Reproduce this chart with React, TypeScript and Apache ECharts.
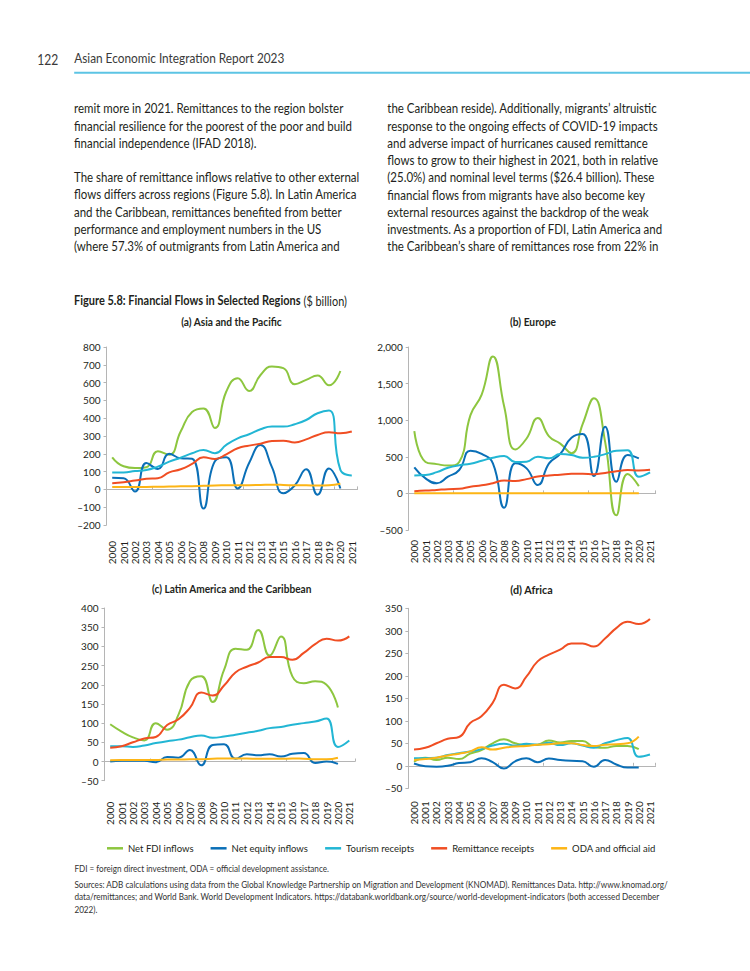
import React, { useEffect, useRef } from "react";
import * as echarts from "echarts";

// ---------- data ----------
const years = ["2000","2001","2002","2003","2004","2005","2006","2007","2008","2009","2010","2011","2012","2013","2014","2015","2016","2017","2018","2019","2020","2021"];
const seriesNames = ["Net FDI inflows", "Net equity inflows", "Tourism receipts", "Remittance receipts", "ODA and official aid"];

// (a) Asia and the Pacific
const asiaFdi = [180, 130, 120, 125, 215, 195, 325, 435, 455, 345, 550, 625, 553, 643, 690, 681, 591, 615, 640, 585, 665];
const asiaEquity = [65, 62, -12, 148, 115, 200, 175, 172, -108, 158, 180, 5, 148, 250, 125, -22, 22, 113, -30, 118, 5];
const asiaTourism = [95, 95, 103, 109, 128, 156, 178, 203, 221, 203, 250, 287, 310, 338, 353, 353, 366, 390, 428, 443, 110, 78];
const asiaRemit = [35, 40, 50, 60, 63, 96, 113, 143, 180, 171, 197, 231, 246, 257, 272, 274, 264, 281, 306, 321, 315, 325];
const asiaOda = [13, 13, 14, 14, 15, 16, 17, 18, 20, 22, 23, 24, 24, 25, 26, 25, 23, 23, 22, 24, 32];

// (b) Europe
const europeFdi = [850, 430, 400, 380, 430, 1070, 1350, 1870, 1190, 600, 750, 1030, 780, 680, 550, 950, 1300, 700, -300, 265, 100];
const europeEquity = [356, 205, 138, 228, 320, 584, 539, 411, -196, 411, 342, 114, 411, 540, 760, 810, 237, 910, 160, 524, 478];
const europeTourism = [245, 250, 290, 350, 385, 405, 445, 488, 511, 428, 434, 502, 480, 537, 524, 487, 500, 537, 583, 590, 228, 287];
const europeRemit = [30, 38, 48, 58, 62, 92, 110, 140, 175, 170, 195, 230, 245, 255, 268, 270, 262, 280, 303, 318, 312, 322];
const europeOda = [2, 2, 2, 2, 2, 2, 2, 3, 3, 3, 3, 3, 3, 3, 3, 3, 3, 3, 3, 3, 3];

// (c) Latin America and the Caribbean
const latamFdi = [97, 78, 63, 55, 100, 83, 122, 209, 222, 155, 239, 294, 291, 343, 276, 326, 222, 204, 209, 200, 141];
const latamEquity = [0, 2, 2, 2, -2, 12, 10, 30, -10, 43, 45, 7, 19, 16, 19, 13, 20, 22, -4, 0, -6];
const latamTourism = [40, 40, 38, 42, 48, 53, 57, 63, 68, 62, 65, 70, 75, 80, 87, 90, 96, 100, 104, 112, 38, 55];
const latamRemit = [36, 40, 50, 60, 64, 95, 110, 140, 180, 172, 198, 232, 247, 258, 272, 272, 265, 283, 306, 320, 315, 326];
const latamOda = [3, 4, 4, 4, 4, 5, 5, 6, 6, 7, 8, 8, 8, 7, 7, 7, 8, 7, 6, 6, 10];

// (d) Africa
const africaFdi = [9, 18, 13, 18, 15, 27, 35, 50, 59, 50, 46, 47, 56, 52, 55, 55, 42, 40, 44, 44, 37];
const africaEquity = [5, -1, -2, 0, 6, 8, 17, 8, -6, 10, 17, 8, 16, 13, 11, 10, -2, 13, 3, -4, -4];
const africaTourism = [17, 17, 18, 24, 28, 32, 37, 45, 49, 45, 49, 47, 51, 46, 50, 45, 40, 50, 57, 62, 20, 25];
const africaRemit = [36, 40, 50, 60, 64, 95, 110, 140, 180, 172, 198, 232, 247, 258, 272, 272, 265, 283, 306, 320, 315, 326];
const africaOda = [13, 15, 18, 23, 27, 32, 41, 36, 40, 43, 44, 47, 48, 50, 50, 46, 44, 47, 48, 50, 65];

// y-axis tick settings per panel
const panelTitles = ["(a) Asia and the Pacific", "(b) Europe", "(c) Latin America and the Caribbean", "(d) Africa"];
const yMins = [-200, -500, -50, -50];
const yMaxs = [800, 2000, 400, 350];
const yIntervals = [100, 500, 50, 50];

// ---------- text ----------
const leftLines = [
  "remit more in 2021. Remittances to the region bolster",
  "financial resilience for the poorest of the poor and build",
  "financial independence (IFAD 2018).",
  "The share of remittance inflows relative to other external",
  "flows differs across regions (Figure 5.8). In Latin America",
  "and the Caribbean, remittances benefited from better",
  "performance and employment numbers in the US",
  "(where 57.3% of outmigrants from Latin America and",
];
const rightLines = [
  "the Caribbean reside). Additionally, migrants\u2019 altruistic",
  "response to the ongoing effects of COVID-19 impacts",
  "and adverse impact of hurricanes caused remittance",
  "flows to grow to their highest in 2021, both in relative",
  "(25.0%) and nominal level terms ($26.4 billion). These",
  "financial flows from migrants have also become key",
  "external resources against the backdrop of the weak",
  "investments. As a proportion of FDI, Latin America and",
  "the Caribbean\u2019s share of remittances rose from 22% in",
];
const noteLine = "FDI = foreign direct investment, ODA = official development assistance.";
const sourceLines = [
  "Sources: ADB calculations using data from the Global Knowledge Partnership on Migration and Development (KNOMAD). Remittances Data. http://www.knomad.org/",
  "data/remittances; and World Bank. World Development Indicators. https://databank.worldbank.org/source/world-development-indicators (both accessed December",
  "2022).",
];

const FONT = "Lato";
const INK = "#231f20";
const COLORS = ["#8dc63f", "#0a6fb7", "#22b6d4", "#f04e23", "#fdb515"];
const AXIS_GRAY = "#b5b5b5";

let measureCtx: CanvasRenderingContext2D | null = null;
function measure(text: string, size: number, weight: string) {
  if (!measureCtx) measureCtx = document.createElement("canvas").getContext("2d");
  if (!measureCtx) return text.length * size * 0.45;
  measureCtx.font = `${weight} ${size}px ${FONT}`;
  return measureCtx.measureText(text).width;
}

function txt(text: string, x: number, y: number, size: number, scaleX: number, weight = "normal", fill = INK, align = "left") {
  return {
    type: "text",
    x,
    y,
    scaleX,
    silent: true,
    style: {
      text,
      fontSize: size,
      fontFamily: FONT,
      fontWeight: weight,
      fill,
      align,
      textAlign: align,
      verticalAlign: "middle",
      textVerticalAlign: "middle",
    },
  };
}
function fitText(text: string, x: number, y: number, width: number, size: number, weight = "normal", fill = INK, align = "left") {
  const w = measure(text, size, weight);
  return txt(text, x, y, size, w > 0 ? width / w : 1, weight, fill, align);
}

export default function App() {
  const ref = useRef<HTMLDivElement>(null);

  useEffect(() => {
    if (!ref.current) return;
    const chart = echarts.init(ref.current, undefined, { renderer: "svg" });

    const panels = [
      [asiaFdi, asiaEquity, asiaTourism, asiaRemit, asiaOda],
      [europeFdi, europeEquity, europeTourism, europeRemit, europeOda],
      [latamFdi, latamEquity, latamTourism, latamRemit, latamOda],
      [africaFdi, africaEquity, africaTourism, africaRemit, africaOda],
    ];
    const grids = [
      { left: 106.5, top: 347, width: 251, height: 178 },
      { left: 408.7, top: 347, width: 247, height: 183 },
      { left: 104.5, top: 608, width: 250.5, height: 172.7 },
      { left: 408.4, top: 608.3, width: 247.2, height: 180 },
    ];
    const xLabelMargins = [16, 10, 21, 13];
    const titleCenters = [[231.5, 321.7, 101], [533, 322.3, 46], [231.7, 589, 160], [531.5, 589, 43]];

    const xAxis: any[] = [];
    const yAxis: any[] = [];
    const series: any[] = [];
    grids.forEach((g, i) => {
      xAxis.push({
        type: "category",
        gridIndex: i,
        data: years,
        boundaryGap: true,
        position: "bottom",
        axisLine: { show: false, onZero: false },
        axisTick: { show: false },
        splitLine: { show: false },
        axisLabel: { rotate: 90, interval: 0, fontSize: 10, fontFamily: FONT, color: INK, margin: xLabelMargins[i] },
      });
      xAxis.push({
        type: "category",
        gridIndex: i,
        data: years,
        boundaryGap: true,
        position: "bottom",
        axisLine: { show: true, onZero: true, lineStyle: { color: AXIS_GRAY, width: 1 } },
        axisTick: { show: true, inside: true, length: 3, lineStyle: { color: AXIS_GRAY } },
        axisLabel: { show: false },
        splitLine: { show: false },
      });
      yAxis.push({
        type: "value",
        gridIndex: i,
        min: yMins[i],
        max: yMaxs[i],
        interval: yIntervals[i],
        axisLine: { show: true, lineStyle: { color: AXIS_GRAY, width: 1 } },
        axisTick: { show: true, length: 3, lineStyle: { color: AXIS_GRAY } },
        splitLine: { show: false },
        axisLabel: {
          fontSize: 10,
          fontFamily: FONT,
          color: INK,
          margin: 6,
          formatter: (v: number) => (v < 0 ? "\u2013" : "") + Math.abs(v).toLocaleString("en-US"),
        },
      });
      panels[i].forEach((vals, k) => {
        series.push({
          name: seriesNames[k],
          type: "line",
          xAxisIndex: 2 * i,
          yAxisIndex: i,
          data: vals,
          smooth: 0.5,
          symbol: "none",
          showSymbol: false,
          lineStyle: { width: 2, color: COLORS[k] },
          itemStyle: { color: COLORS[k] },
          z: 3,
        });
      });
    });

    const graphics: any[] = [];
    // header
    graphics.push(fitText("122", 37.3, 58.3, 21, 16, "normal", "#3a3a3a"));
    graphics.push(fitText("Asian Economic Integration Report 2023", 74.2, 58.3, 210.5, 13, "normal", "#3a3a3a"));
    graphics.push({ type: "line", silent: true, shape: { x1: 74.2, y1: 72.7, x2: 750, y2: 72.7 }, style: { stroke: "#5cc4e4", lineWidth: 2 } });

    // body text
    const bodySize = 13;
    const bodyScale = 286 / measure(leftLines[3], bodySize, "normal");
    const leftYs = [108.3, 125.8, 143.3, 177.3, 194.6, 211.9, 229.2, 246.5];
    leftLines.forEach((l, i) => graphics.push(txt(l, 74, leftYs[i], bodySize, bodyScale, "normal", INK)));
    rightLines.forEach((l, i) => graphics.push(txt(l, 387.3, 108.7 + i * 17.25, bodySize, bodyScale, "normal", INK)));

    // figure title
    graphics.push(fitText("Figure 5.8: Financial Flows in Selected Regions", 74, 300.7, 226.7, 12.5, "bold", INK));
    graphics.push(fitText("($ billion)", 303.5, 300.7, 43.5, 12.5, "normal", INK));

    // panel titles
    titleCenters.forEach((c, i) => graphics.push(fitText(panelTitles[i], c[0], c[1], c[2], 11, "bold", INK, "center")));

    // notes
    graphics.push(fitText(noteLine, 74.4, 868.3, 255, 9.5, "normal", "#333333"));
    const srcScale = 595.6 / measure(sourceLines[0], 9.5, "normal");
    const srcYs = [884.3, 896.6, 909];
    sourceLines.forEach((l, i) => graphics.push(txt(l, 74.4, srcYs[i], 9.5, srcScale, "normal", "#333333")));

    chart.setOption({
      animation: false,
      backgroundColor: "#ffffff",
      textStyle: { fontFamily: FONT },
      grid: grids.map((g) => ({ ...g, containLabel: false })),
      xAxis,
      yAxis,
      series,
      legend: {
        data: seriesNames,
        left: 107,
        top: 843.3,
        padding: 0,
        icon: "rect",
        itemWidth: 16,
        itemHeight: 2.5,
        itemGap: 17,
        selectedMode: false,
        textStyle: { fontSize: 9.5, fontFamily: FONT, color: INK },
      },
      graphic: graphics,
    });

    return () => chart.dispose();
  }, []);

  return (
    <div
      ref={ref}
      style={{ position: "absolute", left: 0, top: 0, width: 750, height: 971, background: "#ffffff" }}
    />
  );
}
